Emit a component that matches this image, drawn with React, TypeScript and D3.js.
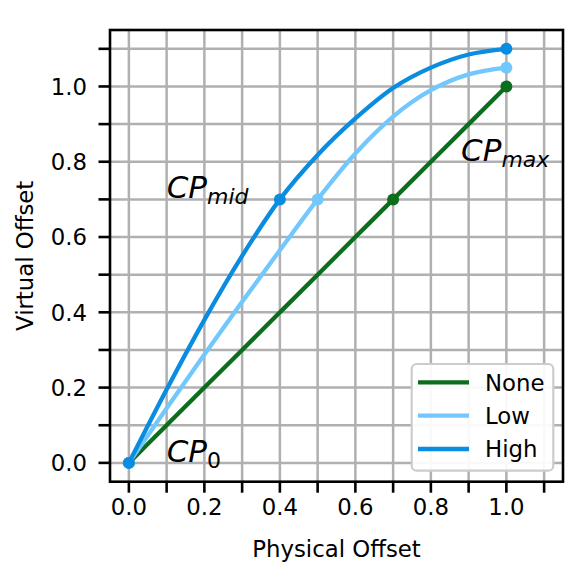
import React from "react";
import * as d3 from "d3";

const sampleX = [0, 0.1, 0.2, 0.3, 0.4, 0.5, 0.6, 0.7, 0.8, 0.9, 1.0];
const noneY = [0, 0.1, 0.2, 0.3, 0.4, 0.5, 0.6, 0.7, 0.8, 0.9, 1.0];
const lowY = [0, 0.145, 0.288, 0.428, 0.565, 0.7, 0.822, 0.92, 0.99, 1.032, 1.05];
const highY = [0, 0.195, 0.38, 0.55, 0.7, 0.818, 0.915, 0.996, 1.05, 1.085, 1.1];

const noneCPx = [0, 0.7, 1.0];
const noneCPy = [0, 0.7, 1.0];
const lowCPx = [0, 0.5, 1.0];
const lowCPy = [0, 0.7, 1.05];
const highCPx = [0, 0.4, 1.0];
const highCPy = [0, 0.7, 1.1];

const seriesNames = ["None", "Low", "High"];
const seriesColors = ["#0b6e1c", "#72c8fc", "#0a8de0"];

const majorTicks = [0, 0.2, 0.4, 0.6, 0.8, 1.0];
const gridTicks = [0, 0.1, 0.2, 0.3, 0.4, 0.5, 0.6, 0.7, 0.8, 0.9, 1.0, 1.1];

const annotations = [
  { main: "CP", sub: "0", subItalic: false, x: 0.1, y: 0.0 },
  { main: "CP", sub: "mid", subItalic: true, x: 0.1, y: 0.7 },
  { main: "CP", sub: "max", subItalic: true, x: 0.88, y: 0.8 },
];

export default function App() {
  const W = 585;
  const H = 573;
  const left = 110, right = 563, top = 30, bottom = 481.7;
  const x = d3.scaleLinear().domain([-0.05, 1.15]).range([left, right]);
  const y = d3.scaleLinear().domain([-0.05, 1.15]).range([bottom, top]);
  const fmt = d3.format(".1f");
  const font = "'DejaVu Sans', sans-serif";
  const fs = 22.8;

  const line = d3
    .line<[number, number]>()
    .x((d) => x(d[0]))
    .y((d) => y(d[1]))
    .curve(d3.curveMonotoneX);

  const series = [
    { ys: noneY, cx: noneCPx, cy: noneCPy },
    { ys: lowY, cx: lowCPx, cy: lowCPy },
    { ys: highY, cx: highCPx, cy: highCPy },
  ];

  const legX = 411.7, legY = 364, legW = 141.6, legH = 106.7;
  const legRows = [382.3, 415.7, 449];

  return (
    <svg width={W} height={H} style={{ display: "block", position: "absolute", left: 0, top: 0 }} fontFamily={font}>
      <rect width={W} height={H} fill="#fff" />
      <defs>
        <clipPath id="plotclip">
          <rect x={left} y={top} width={right - left} height={bottom - top} />
        </clipPath>
      </defs>
      {/* grid */}
      <g stroke="#b0b0b0" strokeWidth={2.5}>
        {gridTicks.map((t) => (
          <line key={"gx" + t} x1={x(t)} x2={x(t)} y1={top} y2={bottom} />
        ))}
        {gridTicks.map((t) => (
          <line key={"gy" + t} x1={left} x2={right} y1={y(t)} y2={y(t)} />
        ))}
      </g>
      {/* series */}
      <g clipPath="url(#plotclip)">
        {series.map((s, i) => (
          <g key={i}>
            <path
              d={line(sampleX.map((v, j) => [v, s.ys[j]] as [number, number])) || ""}
              fill="none"
              stroke={seriesColors[i]}
              strokeWidth={4.3}
              strokeLinecap="round"
            />
            {s.cx.map((cx, j) => (
              <circle key={j} cx={x(cx)} cy={y(s.cy[j])} r={6} fill={seriesColors[i]} />
            ))}
          </g>
        ))}
      </g>
      {/* annotations */}
      {annotations.map((a, i) => (
        <text key={i} x={x(a.x)} y={y(a.y) - 1} fontSize={31} fill="#000">
          <tspan fontStyle="italic">{a.main}</tspan>
          <tspan fontSize={22} dy={6} fontStyle={a.subItalic ? "italic" : "normal"}>
            {a.sub}
          </tspan>
        </text>
      ))}
      {/* frame */}
      <rect x={left} y={top} width={right - left} height={bottom - top} fill="none" stroke="#000" strokeWidth={2.6} />
      {/* ticks */}
      <g stroke="#000" strokeWidth={2.6}>
        {gridTicks.map((t) => (
          <line key={"tx" + t} x1={x(t)} x2={x(t)} y1={bottom} y2={bottom + 11} />
        ))}
        {gridTicks.map((t) => (
          <line key={"ty" + t} x1={left - 11.5} x2={left} y1={y(t)} y2={y(t)} />
        ))}
      </g>
      {majorTicks.map((t) => (
        <text key={"lx" + t} x={x(t)} y={bottom + 33} fontSize={fs} textAnchor="middle" fill="#000">
          {fmt(t)}
        </text>
      ))}
      {majorTicks.map((t) => (
        <text key={"ly" + t} x={left - 23} y={y(t)} dy="0.36em" fontSize={fs} textAnchor="end" fill="#000">
          {fmt(t)}
        </text>
      ))}
      <text x={(left + right) / 2} y={557} fontSize={fs} textAnchor="middle" fill="#000">
        Physical Offset
      </text>
      <text
        transform={`translate(33,${(top + bottom) / 2}) rotate(-90)`}
        fontSize={fs}
        textAnchor="middle"
        fill="#000"
      >
        Virtual Offset
      </text>
      {/* legend */}
      <rect x={legX} y={legY} width={legW} height={legH} rx={5} fill="#fff" fillOpacity={0.92} stroke="#cccccc" strokeWidth={2.2} />
      {seriesNames.map((n, i) => (
        <g key={n}>
          <line x1={418} x2={469} y1={legRows[i]} y2={legRows[i]} stroke={seriesColors[i]} strokeWidth={4.3} />
          <text x={485} y={legRows[i]} dy="0.36em" fontSize={fs} fill="#000">
            {n}
          </text>
        </g>
      ))}
    </svg>
  );
}
